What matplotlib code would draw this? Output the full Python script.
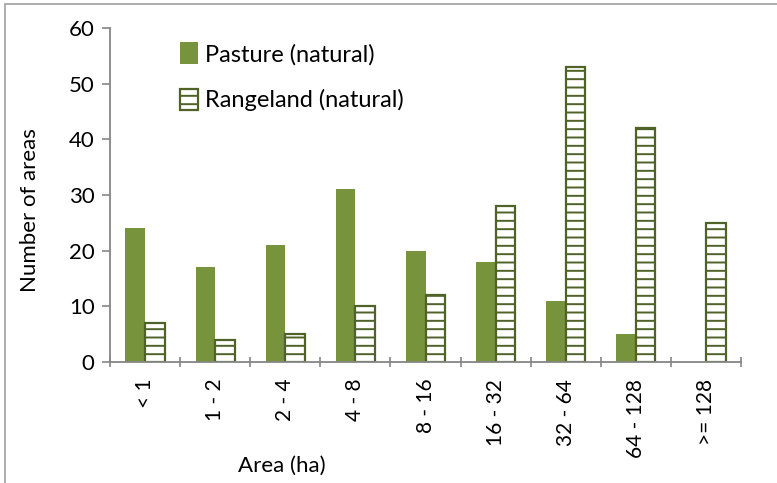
import numpy as np
import matplotlib
matplotlib.use("Agg")
import matplotlib.pyplot as plt
from matplotlib.patches import Rectangle

plt.rcParams['font.family'] = ['Lato', 'DejaVu Sans']
plt.rcParams['hatch.linewidth'] = 1.4

# data
categories = ["< 1", "1 - 2", "2 - 4", "4 - 8", "8 - 16", "16 - 32", "32 - 64", "64 - 128", ">= 128"]
pasture = [24, 17, 21, 31, 20, 18, 11, 5, 0]
rangeland = [7, 4, 5, 10, 12, 28, 53, 42, 25]

green = "#77933C"
dark_green = "#4F6228"
axis_grey = "#868686"

W, H = 777, 483
fig = plt.figure(figsize=(W / 100, H / 100), dpi=100)
# axes box in pixels: left 110, right 741, top 28, bottom 362
ax = fig.add_axes([110 / W, 1 - 362 / H, (741 - 110) / W, (362 - 28) / H])

x = np.arange(len(categories))
bw = 0.28
ax.bar(x - bw / 2, pasture, width=bw, color=green, edgecolor="none",
       label="Pasture (natural)")
ax.bar(x + bw / 2, rangeland, width=bw, color="white", edgecolor=dark_green,
       linewidth=1.6, hatch="--", label="Rangeland (natural)")

ax.set_xlim(-0.5, len(categories) - 0.5)
ax.set_ylim(0, 60)
ax.set_yticks(range(0, 61, 10))
ax.set_xticks(x)
ax.set_xticklabels(categories, rotation=90, fontsize=15)
ax.set_xticks(np.arange(-0.5, len(categories), 1), minor=True)
ax.tick_params(axis="x", which="major", length=0, pad=12)
ax.tick_params(axis="x", which="minor", length=7, color=axis_grey, direction="inout", width=1.2)
ax.tick_params(axis="y", length=6, color=axis_grey, width=1.2, labelsize=16, pad=5)

for s in ["top", "right"]:
    ax.spines[s].set_visible(False)
for s in ["left", "bottom"]:
    ax.spines[s].set_color(axis_grey)
    ax.spines[s].set_linewidth(1.3)

fig.text(30 / W, 1 - 210 / H, "Number of areas", rotation=90, ha="center", va="center", fontsize=16)
fig.text(282 / W, 1 - 466 / H, "Area (ha)", ha="center", va="center", fontsize=16)

ax.legend(loc="upper left", bbox_to_anchor=(171 / W, 1 - 33 / H), bbox_transform=fig.transFigure,
          frameon=False, fontsize=17, handlelength=0.75, handleheight=1.0,
          handletextpad=0.3, labelspacing=1.0, borderaxespad=0)

# outer chart frame
fig.patches.append(Rectangle((5 / W, -0.05), 1.05, 1 - 4 / H + 0.05, transform=fig.transFigure,
                             fill=False, edgecolor="#A0A0A0", linewidth=1.2))

fig.savefig("out.png", dpi=100)
